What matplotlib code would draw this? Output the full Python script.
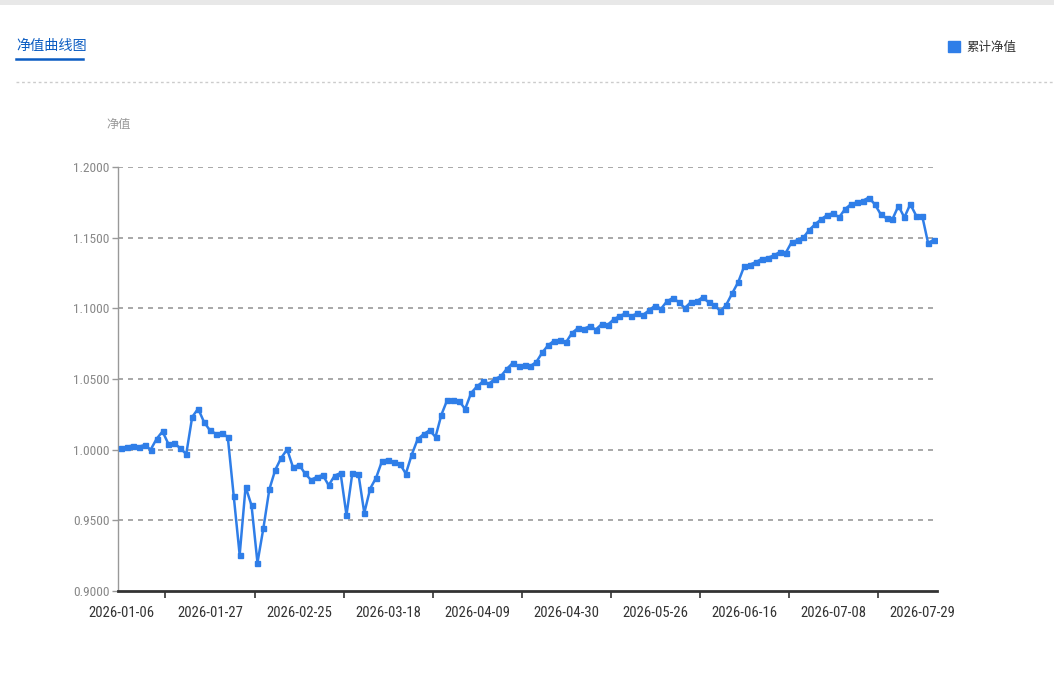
import numpy as np
import matplotlib
matplotlib.use("Agg")
import matplotlib.pyplot as plt
from matplotlib import font_manager
from matplotlib.patches import Rectangle, Patch
from matplotlib.lines import Line2D

# pick a narrow face for the numbers if one is around
avail = {f.name for f in font_manager.fontManager.ttflist}
num_font = next((f for f in ['Liberation Sans Narrow', 'Roboto Condensed', 'Arial Narrow',
                             'PT Sans Narrow', 'Archivo Narrow', 'Open Sans Condensed']
                 if f in avail), 'Noto Sans CJK SC')
cjk = 'Noto Sans CJK SC'
plt.rcParams['font.family'] = [num_font, cjk, 'DejaVu Sans']

# Cumulative NAV series (one value per trading day)
nav = [
    1.0010, 1.0021, 1.0029, 1.0021, 1.0033, 1.0000, 1.0076, 1.0129, 1.0040, 1.0045,
    1.0010, 0.9969, 1.0231, 1.0290, 1.0195, 1.0136, 1.0112, 1.0119, 1.0088, 0.9671,
    0.9255, 0.9738, 0.9605, 0.9200, 0.9445, 0.9719, 0.9857, 0.9942, 1.0002, 0.9874,
    0.9894, 0.9832, 0.9786, 0.9807, 0.9820, 0.9748, 0.9816, 0.9835, 0.9537, 0.9838,
    0.9831, 0.9552, 0.9725, 0.9802, 0.9921, 0.9930, 0.9910, 0.9899, 0.9830, 0.9965,
    1.0075, 1.0110, 1.0137, 1.0090, 1.0248, 1.0354, 1.0349, 1.0342, 1.0288, 1.0401,
    1.0448, 1.0483, 1.0467, 1.0500, 1.0519, 1.0571, 1.0613, 1.0590, 1.0596, 1.0592,
    1.0621, 1.0688, 1.0740, 1.0771, 1.0776, 1.0760, 1.0826, 1.0860, 1.0855, 1.0874,
    1.0850, 1.0888, 1.0883, 1.0921, 1.0945, 1.0964, 1.0945, 1.0964, 1.0955, 1.0986,
    1.1020, 1.0997, 1.1050, 1.1073, 1.1043, 1.1002, 1.1043, 1.1050, 1.1078, 1.1043,
    1.1024, 1.0979, 1.1026, 1.1107, 1.1185, 1.1296, 1.1310, 1.1327, 1.1351, 1.1358,
    1.1374, 1.1398, 1.1391, 1.1468, 1.1482, 1.1502, 1.1556, 1.1596, 1.1631, 1.1660,
    1.1674, 1.1643, 1.1702, 1.1737, 1.1749, 1.1761, 1.1784, 1.1737, 1.1667, 1.1636,
    1.1631, 1.1725, 1.1643, 1.1737, 1.1655, 1.1655, 1.1462, 1.1486,
]

date_labels = ['2026-01-06', '2026-01-27', '2026-02-25', '2026-03-18', '2026-04-09',
               '2026-04-30', '2026-05-26', '2026-06-16', '2026-07-08', '2026-07-29']
label_step = 15
y_ticks = [0.90, 0.95, 1.00, 1.05, 1.10, 1.15, 1.20]

line_color = '#2f7ee8'

fig = plt.figure(figsize=(10.54, 6.99), dpi=100)
W, H = 1054, 699
renderer = fig.canvas.get_renderer()


def fit_size(s, target_px, family, base=10):
    # font size that gives the string the wanted width in pixels
    t = fig.text(0, 0, s, fontsize=base, family=family)
    w = t.get_window_extent(renderer).width
    t.remove()
    return base * target_px / w


x_size = min(fit_size('2026-01-06', 64, [num_font, cjk]), 12)
y_size = min(fit_size('1.2000', 36, [num_font, cjk]), 12)

ax = fig.add_axes([118 / W, 1 - 591 / H, (937 - 118) / W, (591 - 167) / H])

x = np.arange(len(nav))
ax.plot(x, nav, color=line_color, lw=1.8, marker='s', ms=3.6, mec=line_color, mfc=line_color,
        zorder=3)

ax.set_xlim(-0.5, len(nav) - 0.5)
ax.set_ylim(0.9, 1.2)

# y axis
ax.set_yticks(y_ticks)
ax.set_yticklabels([f"{v:.4f}" for v in y_ticks])
ax.tick_params(axis='y', colors='#999999', labelcolor='#888888', labelsize=y_size,
               length=4, width=1, pad=2)
for v in y_ticks[1:]:
    ax.axhline(v, color='#999999', lw=1.2, ls=(0, (3, 3)), zorder=1)

# x axis: tick marks between labelled categories, labels on categories
label_pos = [i * label_step for i in range(len(date_labels))]
ax.set_xticks([p + label_step / 2 for p in label_pos[:-1]])
ax.set_xticklabels([])
ax.set_xticks(label_pos, minor=True)
ax.set_xticklabels(date_labels, minor=True)
ax.tick_params(axis='x', which='major', colors='#333333', length=5, width=1.2)
ax.tick_params(axis='x', which='minor', length=0, labelcolor='#333333', labelsize=x_size,
               pad=11)

ax.spines['top'].set_visible(False)
ax.spines['right'].set_visible(False)
ax.spines['left'].set_color('#999999')
ax.spines['left'].set_linewidth(1)
ax.spines['bottom'].set_color('#333333')
ax.spines['bottom'].set_linewidth(2)

ax.text(119 / W, 1 - 124 / H, '净值', transform=fig.transFigure, ha='center', va='center',
        fontsize=8.8, color='#999999', family=[cjk])

# header
fig.add_artist(Rectangle((0, 1 - 5 / H), 1, 5 / H, transform=fig.transFigure,
                         color='#e8e8e8', lw=0))
fig.text(16 / W, 1 - 46 / H, '净值曲线图', ha='left', va='center', fontsize=10.2,
         color='#0b5cc2', family=[cjk])
fig.add_artist(Line2D([16 / W, 83 / W], [1 - 59 / H, 1 - 59 / H], transform=fig.transFigure,
                      color='#0b5cc2', lw=1.8))
fig.add_artist(Line2D([16 / W, 1], [1 - 82 / H, 1 - 82 / H], transform=fig.transFigure,
                      color='#cccccc', lw=1, ls=(0, (2, 2))))

handle = Patch(facecolor=line_color, edgecolor=line_color)
fig.legend([handle], ['累计净值'], loc='center right', bbox_to_anchor=(1016 / W, 1 - 47 / H),
           frameon=False, handlelength=0.95, handleheight=0.95, handletextpad=0.5,
           prop={'family': [cjk], 'size': 9}, labelcolor='#333333',
           borderaxespad=0, borderpad=0)

fig.savefig('out.png', dpi=100)
